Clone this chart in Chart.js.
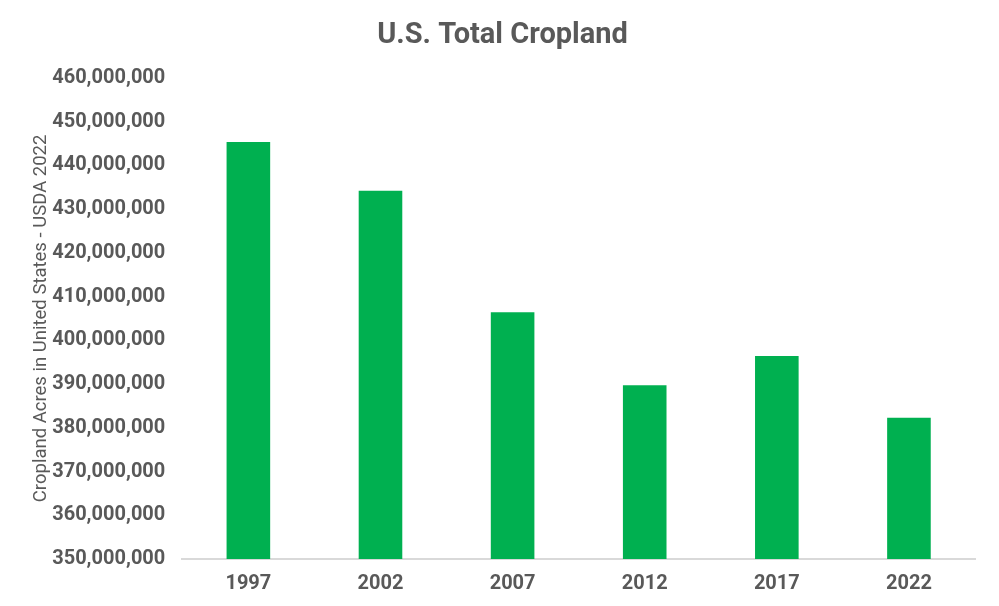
<!DOCTYPE html>
<html>
<head>
<meta charset="utf-8">
<script src="https://cdn.jsdelivr.net/npm/chart.js@4.4.1/dist/chart.umd.min.js"></script>
<style>
  html, body { margin: 0; padding: 0; background: #fff; }
  #wrap { width: 999px; height: 606px; }
</style>
</head>
<body>
<div id="wrap"><canvas id="canvas"></canvas></div>
<script>
// data
let years = ["1997", "2002", "2007", "2012", "2017", "2022"];
let acres = [445300000, 434200000, 406400000, 389700000, 396400000, 382300000];
let yMin = 350000000;
let yMax = 460000000;
let yStep = 10000000;

let grey = "#595959";

let cropChart = new Chart(document.getElementById("canvas"), {
    type: "bar",
    data: {
        labels: years,
        datasets: [{
            label: "Cropland Acres",
            data: acres,
            backgroundColor: "#00B050",
            categoryPercentage: 0.33,
            barPercentage: 1.0
        }]
    },
    options: {
        responsive: true,
        maintainAspectRatio: false,
        animation: false,
        layout: { padding: { top: 6, right: 24, bottom: -3, left: 30 } },
        plugins: {
            legend: { display: false },
            tooltip: { enabled: false },
            title: {
                display: true,
                text: "U.S. Total Cropland",
                color: grey,
                font: { family: "Roboto", size: 29, weight: "bold" },
                padding: { top: 12, bottom: 25 }
            }
        },
        scales: {
            x: {
                grid: { display: false, drawTicks: false },
                border: { color: "#d9d9d9", width: 2 },
                ticks: {
                    color: grey,
                    font: { family: "Roboto", size: 20, weight: "bold" },
                    padding: 13
                }
            },
            y: {
                min: yMin,
                max: yMax,
                grid: { display: false, drawTicks: false },
                border: { display: false },
                ticks: {
                    stepSize: yStep,
                    color: grey,
                    padding: 17,
                    font: { family: "Roboto", size: 20, weight: "bold" },
                    callback: v => v.toLocaleString("en-US")
                },
                title: {
                    display: true,
                    text: "Cropland Acres in United States - USDA 2022",
                    color: grey,
                    font: { family: "Roboto", size: 18.5 },
                    padding: { top: 0, bottom: -17 }
                }
            }
        }
    }
});
</script>
</body>
</html>
